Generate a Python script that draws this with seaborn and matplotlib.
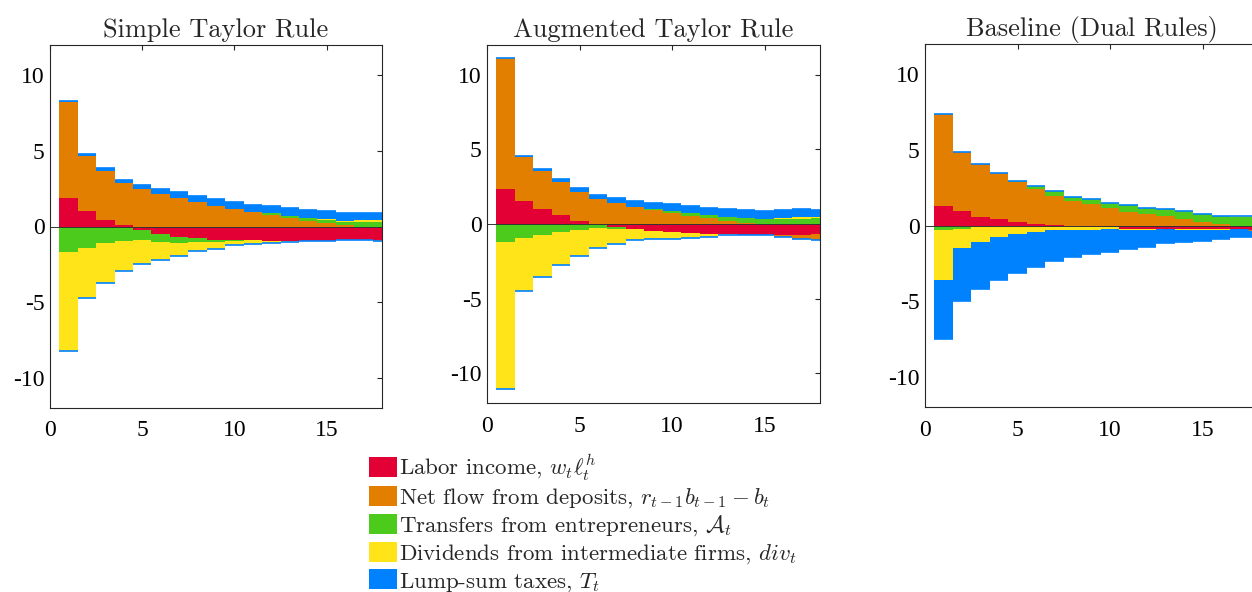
import matplotlib

matplotlib.use("Agg")
import matplotlib.pyplot as plt
import numpy as np
import seaborn as sns
from matplotlib.patches import Patch

PERIODS = np.arange(1, 19)

TITLES = ["Simple Taylor Rule", "Augmented Taylor Rule", "Baseline (Dual Rules)"]
LABELS = [
    r"Labor income, $w_t\ell_t^h$",
    r"Net flow from deposits, $r_{t-1}b_{t-1}-b_t$",
    r"Transfers from entrepreneurs, $\mathcal{A}_t$",
    r"Dividends from intermediate firms, $div_t$",
    r"Lump-sum taxes, $T_t$",
]
COLORS = ["#E30034", "#E37F00", "#4CCB1C", "#FFE41A", "#0082FF"]

# simple Taylor rule
simple_labor = [1.89, 1.03, 0.44, 0.07, -0.22, -0.48, -0.70, -0.77, -0.88, -0.88,
                -0.92, -0.95, -0.97, -0.95, -0.95, -0.88, -0.88, -0.88]
simple_deposits = [6.35, 3.65, 3.23, 2.81, 2.48, 2.15, 1.89, 1.63, 1.36, 1.16,
                   0.97, 0.75, 0.59, 0.37, 0.20, 0.07, 0.0, -0.10]
simple_transfers = [-1.71, -1.41, -1.12, -0.95, -0.70, -0.55, -0.37, -0.26, -0.13, -0.05,
                    0.0, 0.11, 0.11, 0.20, 0.26, 0.26, 0.33, 0.33]
simple_dividends = [-6.55, -3.29, -2.62, -1.97, -1.54, -1.19, -0.88, -0.62, -0.46, -0.30,
                    -0.22, -0.13, -0.07, -0.02, 0.04, 0.04, 0.09, 0.09]
simple_taxes = [0.05, 0.11, 0.20, 0.20, 0.26, 0.33, 0.40, 0.40, 0.46, 0.46,
                0.46, 0.50, 0.53, 0.53, 0.53, 0.53, 0.48, 0.50]

# augmented Taylor rule
aug_labor = [2.34, 1.54, 1.00, 0.60, 0.22, 0.02, -0.20, -0.33, -0.47, -0.53,
             -0.60, -0.67, -0.67, -0.73, -0.73, -0.73, -0.73, -0.67]
aug_deposits = [8.77, 2.94, 2.56, 2.21, 1.91, 1.63, 1.40, 1.14, 0.94, 0.71,
                0.56, 0.42, 0.20, 0.07, 0.0, -0.16, -0.29, -0.40]
aug_transfers = [-1.20, -0.94, -0.73, -0.53, -0.40, -0.27, -0.13, 0.0, 0.07, 0.16,
                 0.18, 0.20, 0.27, 0.33, 0.33, 0.33, 0.36, 0.40]
aug_dividends = [-9.89, -3.56, -2.83, -2.23, -1.74, -1.36, -1.02, -0.73, -0.53, -0.47,
                 -0.33, -0.20, -0.05, -0.02, 0.0, 0.07, 0.10, 0.07]
aug_taxes = [0.05, 0.05, 0.11, 0.20, 0.29, 0.31, 0.33, 0.40, 0.40, 0.47,
             0.47, 0.45, 0.53, 0.53, 0.53, 0.53, 0.53, 0.50]

# baseline (dual rules)
base_labor = [1.28, 0.93, 0.59, 0.40, 0.26, 0.13, 0.02, 0.0, -0.07, -0.13,
              -0.20, -0.20, -0.20, -0.20, -0.26, -0.26, -0.26, -0.30]
base_deposits = [6.08, 3.90, 3.48, 3.04, 2.64, 2.31, 1.96, 1.65, 1.39, 1.17,
                 0.90, 0.79, 0.62, 0.40, 0.24, 0.13, 0.0, -0.05]
base_transfers = [-0.33, -0.20, -0.13, 0.02, 0.07, 0.15, 0.29, 0.26, 0.33, 0.35,
                  0.48, 0.40, 0.44, 0.53, 0.55, 0.53, 0.55, 0.55]
base_dividends = [-3.30, -1.26, -0.93, -0.79, -0.59, -0.46, -0.33, -0.33, -0.20, -0.07,
                  -0.07, -0.07, -0.05, -0.07, -0.02, -0.02, 0.09, 0.05]
base_taxes = [-3.90, -3.50, -3.17, -2.84, -2.58, -2.31, -2.05, -1.78, -1.59, -1.52,
              -1.26, -1.12, -0.93, -0.79, -0.73, -0.59, -0.53, -0.40]

PANELS = [
    [simple_labor, simple_deposits, simple_transfers, simple_dividends, simple_taxes],
    [aug_labor, aug_deposits, aug_transfers, aug_dividends, aug_taxes],
    [base_labor, base_deposits, base_transfers, base_dividends, base_taxes],
]

# axes boxes in pixels (left, top, right, bottom) on a 1252x592 canvas
BOXES = [(50, 45, 382, 408), (487, 45, 820, 403), (925, 44, 1258, 407)]
W, H = 1252, 592

sns.set_theme(style="white")
plt.rcParams.update({
    "font.family": ["cmr10", "DejaVu Serif"],
    "mathtext.fontset": "cm",
    "axes.unicode_minus": False,
    "axes.edgecolor": "#262626",
    "axes.linewidth": 0.8,
    "xtick.direction": "in",
    "ytick.direction": "in",
    "xtick.top": True,
    "ytick.right": True,
    "xtick.color": "#262626",
    "ytick.color": "#262626",
    "xtick.labelcolor": "black",
    "ytick.labelcolor": "black",
})


def stacked_panel(ax, components, title):
    pos_base = np.zeros(len(PERIODS))
    neg_base = np.zeros(len(PERIODS))
    for vals, color in zip(components, COLORS):
        vals = np.asarray(vals, dtype=float)
        pos = np.clip(vals, 0, None)
        neg = np.clip(vals, None, 0)
        ax.bar(PERIODS, pos, width=1.0, bottom=pos_base, color=color, linewidth=0)
        ax.bar(PERIODS, neg, width=1.0, bottom=neg_base, color=color, linewidth=0)
        pos_base += pos
        neg_base += neg
    # edge of the last series shows at both ends of each stack
    ax.hlines(pos_base, PERIODS - 0.5, PERIODS + 0.5, color=COLORS[-1], lw=1.2)
    ax.hlines(neg_base, PERIODS - 0.5, PERIODS + 0.5, color=COLORS[-1], lw=1.2)
    ax.axhline(0, color="#333333", lw=0.7)
    ax.set_xlim(0, 18)
    ax.set_ylim(-12, 12)
    ax.set_xticks([0, 5, 10, 15])
    ax.set_yticks([-10, -5, 0, 5, 10])
    ax.tick_params(labelsize=17, length=3.5, width=0.8, pad=4)
    ax.tick_params(axis="x", pad=9)
    for lab in ax.get_xticklabels() + ax.get_yticklabels():
        lab.set_fontfamily("Liberation Serif")
    ax.set_title(title, fontsize=19, pad=6)


fig = plt.figure(figsize=(W / 100, H / 100), dpi=100)
for comps, title, (l, t, r, b) in zip(PANELS, TITLES, BOXES):
    ax = fig.add_axes([l / W, 1 - b / H, (r - l) / W, (b - t) / H])
    stacked_panel(ax, comps, title)

handles = [Patch(facecolor=c, edgecolor="none") for c in COLORS]
fig.legend(handles, LABELS, loc="upper left", bbox_to_anchor=(369 / W, 1 - 452 / H),
           frameon=False, fontsize=16.5, handlelength=1.22, handleheight=0.96,
           handletextpad=0.1, labelspacing=0.15, borderpad=0, borderaxespad=0)

fig.savefig("out.png", dpi=100)
plt.close(fig)
